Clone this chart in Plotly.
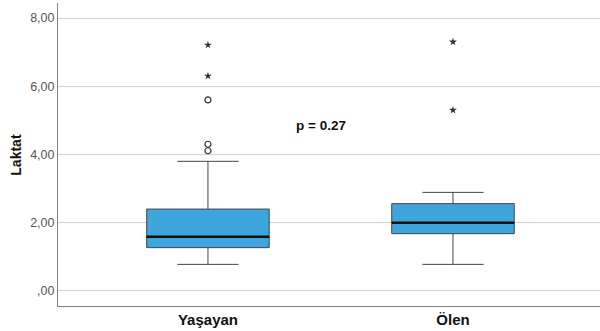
import plotly.graph_objects as go

categories = ["Yaşayan", "Ölen"]
q1 = [1.27, 1.68]
median = [1.59, 2.00]
q3 = [2.40, 2.56]
lower_whisker = [0.78, 0.78]
upper_whisker = [3.80, 2.89]
# outliers: circles (mild) and stars (extreme)
mild_x = [0, 0, 0]
mild_y = [5.60, 4.30, 4.11]
extreme_x = [0, 0, 1, 1]
extreme_y = [7.21, 6.30, 7.30, 5.30]
y_ticks = [0, 2, 4, 6, 8]
y_tick_labels = [",00", "2,00", "4,00", "6,00", "8,00"]
p_text = "p = 0.27"
y_title = "Laktat"

box_color = "#3EA6DD"
box_width = 0.5
xpos = list(range(len(categories)))

fig = go.Figure()
fig.add_trace(go.Box(
    x=xpos, q1=q1, median=median, q3=q3,
    lowerfence=lower_whisker, upperfence=upper_whisker,
    fillcolor=box_color, line=dict(color="#444444", width=1),
    width=box_width, whiskerwidth=0.5, boxpoints=False,
    showlegend=False, hoverinfo="skip"))
for i, m in enumerate(median):
    fig.add_trace(go.Scatter(
        x=[xpos[i] - box_width / 2, xpos[i] + box_width / 2], y=[m, m],
        mode="lines", line=dict(color="#111111", width=2.5),
        showlegend=False, hoverinfo="skip"))
fig.add_trace(go.Scatter(
    x=mild_x, y=mild_y, mode="markers",
    marker=dict(symbol="circle-open", size=6, color="#333333", line=dict(width=1.2)),
    showlegend=False))
fig.add_trace(go.Scatter(
    x=extreme_x, y=extreme_y, mode="markers",
    marker=dict(symbol="star", size=6, color="#333333", line=dict(width=0)),
    showlegend=False))

fig.add_annotation(x=0.46, y=4.84, text="<b>" + p_text + "</b>", showarrow=False,
                   font=dict(size=13.5, color="#111111"))
fig.add_annotation(xref="paper", yref="paper", x=-0.079, y=0.5, xanchor="center", yanchor="middle",
                   text="<b>" + y_title + "</b>",
                   textangle=-90, showarrow=False, font=dict(size=14, color="#111111"))

fig.update_layout(
    width=600, height=331,
    margin=dict(l=58, r=0, t=3, b=25),
    paper_bgcolor="white", plot_bgcolor="white",
    font=dict(family="Liberation Sans, Arial, sans-serif"),
    xaxis=dict(range=[-0.612, 1.60], tickvals=xpos, ticktext=["<b>%s</b>" % c for c in categories],
               showgrid=False, zeroline=False, showline=True, linecolor="#808080", linewidth=1,
               ticks="", ticklen=0, tickfont=dict(size=15, color="#111111"), automargin=False),
    yaxis=dict(range=[-0.44, 8.44], tickvals=y_ticks, ticktext=y_tick_labels,
               showgrid=True, gridcolor="#d0d0d0", gridwidth=1, zeroline=False,
               showline=True, linecolor="#808080", linewidth=1, ticks="",
               tickfont=dict(size=12.5, color="#555555"), automargin=False),
)
fig.write_html("out.html", config={"displayModeBar": False},
               post_script="document.body.style.margin='0';document.body.style.overflow='hidden';")
